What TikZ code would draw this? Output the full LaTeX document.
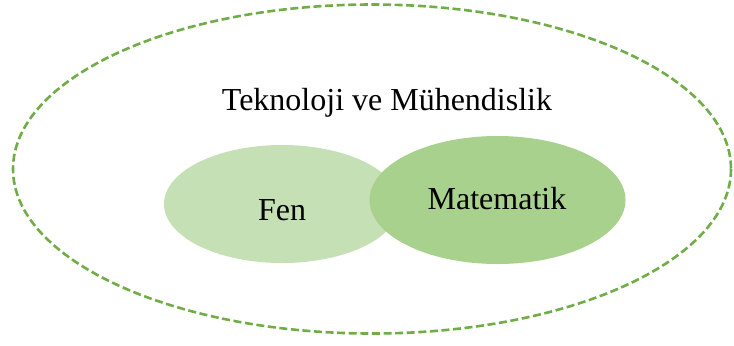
\documentclass[tikz,border=0pt]{standalone}
\usepackage{fontspec}
\setmainfont{Liberation Serif}
\usetikzlibrary{shapes.geometric}
\definecolor{outergreen}{HTML}{70AD47}
\definecolor{fenfill}{HTML}{C5E0B4}
\definecolor{matfill}{HTML}{A9D18E}
\tikzset{
  blob/.style={ellipse, inner sep=0pt},
  lbl/.style={font=\fontsize{16}{19}\selectfont}
}
\begin{document}
\begin{tikzpicture}[x=0.5pt,y=-0.5pt]
	\useasboundingbox (0,0) rectangle (734,345);
	% Teknoloji ve Muhendislik
	\draw[outergreen, dash pattern=on 4pt off 1.8pt, line width=1.3pt] (372,169) ellipse [x radius=359, y radius=164.5];
	\node[lbl] (tekno) at (387,103) {Teknoloji ve Mühendislik};

	% Fen
	\node[blob, fill=fenfill, minimum width=118pt, minimum height=59pt] (fen) at (282,204) {};
	\node[lbl] (fenlbl) at (282,210) {Fen};

	% Matematik
	\node[blob, fill=matfill, minimum width=128pt, minimum height=64pt] (mat) at (497.5,200) {};
	\node[lbl] (matlbl) at (497,199) {Matematik};
\end{tikzpicture}
\end{document}
